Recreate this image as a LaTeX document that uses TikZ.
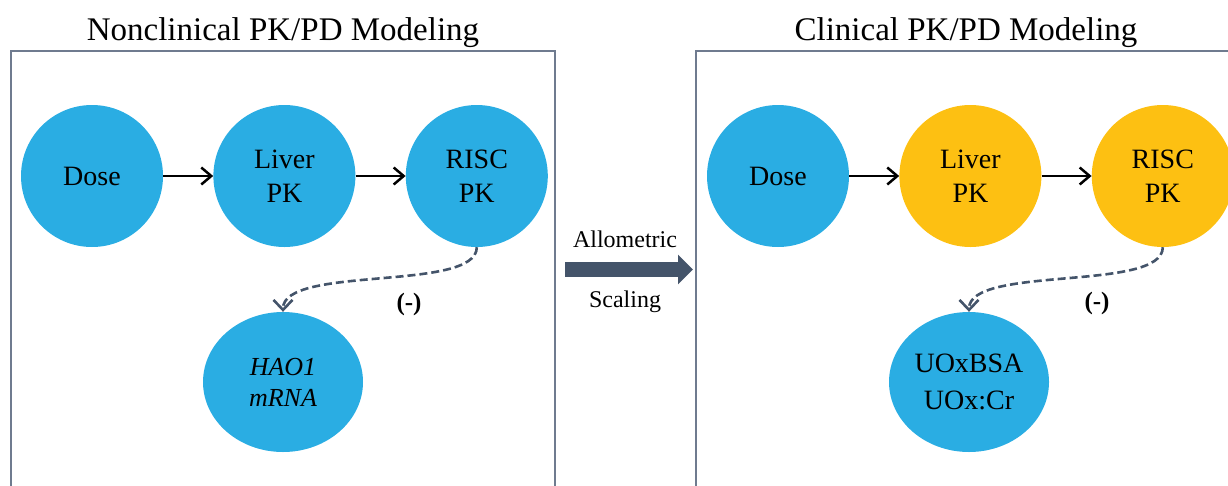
\documentclass[tikz,border=0pt]{standalone}
\usepackage{fontspec}
\setmainfont{Liberation Serif}
\definecolor{DoseBlue}{HTML}{2AADE3}
\definecolor{HumanGold}{HTML}{FDC012}
\definecolor{FrameGray}{HTML}{6F7B8F}
\definecolor{SlateArrow}{HTML}{44546A}
\usepackage{tikz}
\usetikzlibrary{positioning,shapes.geometric,arrows.meta}

\tikzset{
  pkcirc/.style={circle, fill=DoseBlue, minimum size=142pt, inner sep=0pt,
    align=center, font=\fontsize{28}{34}\selectfont},
  pdoval/.style={ellipse, fill=DoseBlue, minimum width=160pt, minimum height=140pt,
    inner sep=0pt, align=center},
  flow/.style={-{Straight Barb[length=10pt,width=17pt]}, line width=2.5pt, black},
  inhib/.style={-{Straight Barb[length=10pt,width=19pt]}, line width=2.6pt,
    dash pattern=on 8pt off 4pt, SlateArrow},
  frame/.style={FrameGray, line width=1.5pt},
  paneltitle/.style={anchor=base, font=\fontsize{33}{38}\selectfont},
  midlabel/.style={anchor=base, font=\fontsize{24}{28}\selectfont}
}

\begin{document}
\begin{tikzpicture}[x=1pt, y=-1pt]
  \useasboundingbox (0,0) rectangle (1228,485);

  % panel frames
  \draw[frame] (11,500) |- (555,51) -- (555,500);
  \draw[frame] (696,500) |- (1240,51);
  \node[paneltitle] (titleL) at (283,40) {Nonclinical PK/PD Modeling};
  \node[paneltitle] (titleR) at (966,40) {Clinical PK/PD Modeling};

  % nonclinical
  \node[pkcirc] (doseL) at (92,176) {Dose};
  \node[pkcirc, right=50pt of doseL] (liverL) {Liver\\PK};
  \node[pkcirc, right=50pt of liverL] (riscL) {RISC\\PK};
  \node[pdoval, font=\fontsize{26}{31}\selectfont\itshape] (haoL) at (283,382) {HAO1\\mRNA};
  \draw[flow] (doseL) -- (liverL);
  \draw[flow] (liverL) -- (riscL);
  \draw[inhib] (riscL.south) .. controls +(0,45) and +(0,-47) .. (haoL.north);
  \node[font=\fontsize{25}{28}\selectfont\bfseries] (signL) at (409,304) {(-)};

  % allometric scaling
  \coordinate (scaleA) at (565,269.5);
  \coordinate (scaleB) at (693,269.5);
  \draw[SlateArrow, line width=15pt, -{Triangle[length=15pt,width=29pt]}] (scaleA) -- (scaleB);
  \node[midlabel] (allo) at (625,247) {Allometric};
  \node[midlabel] (scal) at (625,307) {Scaling};

  % clinical
  \node[pkcirc] (doseR) at (778,176) {Dose};
  \node[pkcirc, fill=HumanGold, right=50pt of doseR] (liverR) {Liver\\PK};
  \node[pkcirc, fill=HumanGold, right=50pt of liverR] (riscR) {RISC\\PK};
  \node[pdoval, font=\fontsize{28}{37}\selectfont] (uoxR) at (969,382) {UOxBSA\\UOx:Cr};
  \draw[flow] (doseR) -- (liverR);
  \draw[flow] (liverR) -- (riscR);
  \draw[inhib] (riscR.south) .. controls +(0,45) and +(0,-47) .. (uoxR.north);
  \node[font=\fontsize{25}{28}\selectfont\bfseries] (signR) at (1097,303) {(-)};
\end{tikzpicture}
\end{document}
